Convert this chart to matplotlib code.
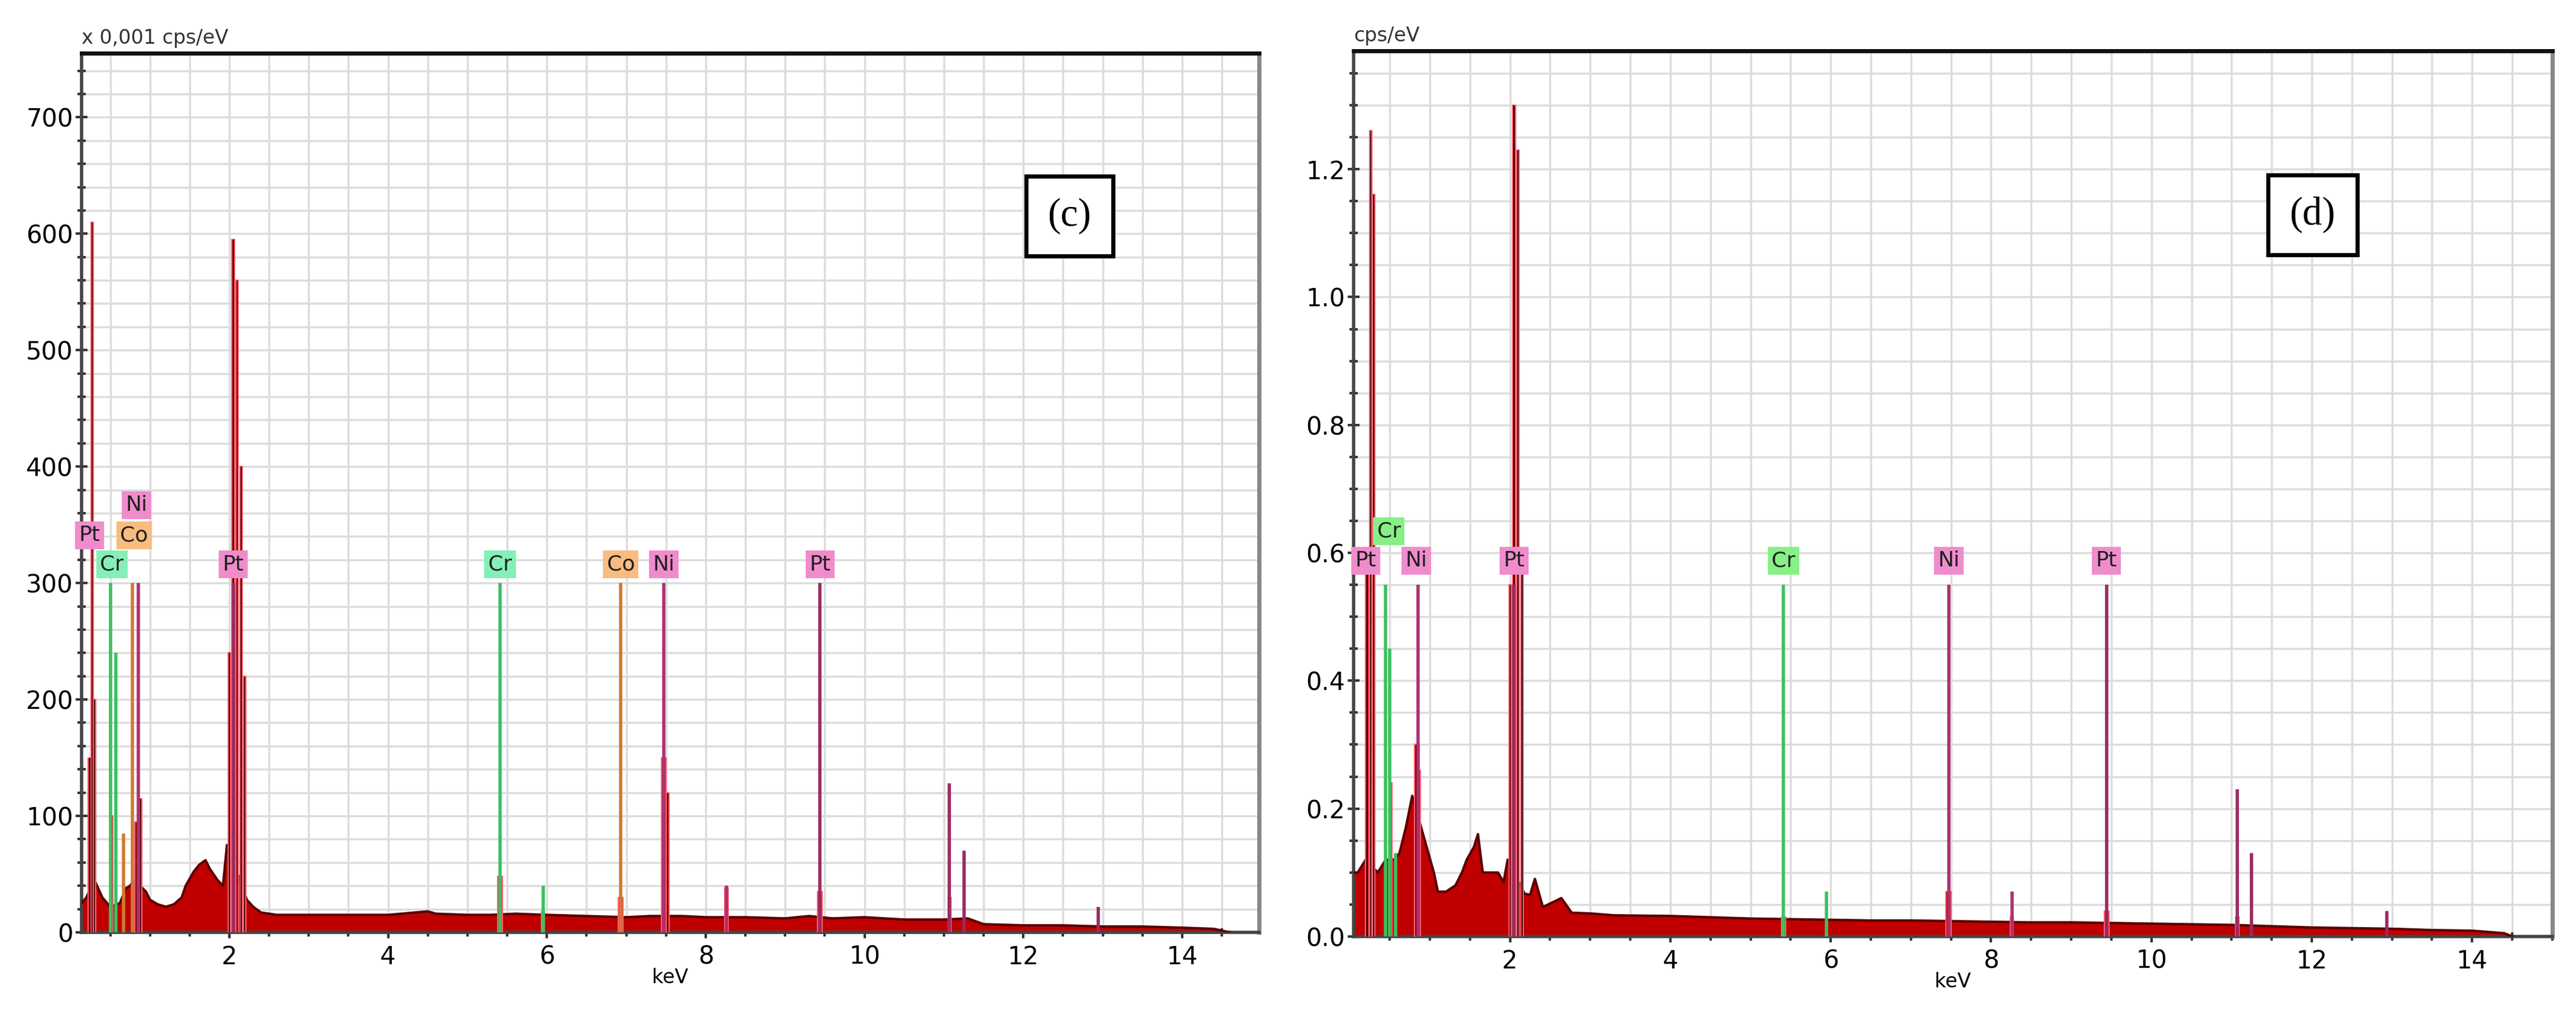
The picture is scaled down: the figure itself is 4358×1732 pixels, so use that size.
import matplotlib
matplotlib.use("Agg")
import matplotlib.pyplot as plt
from matplotlib.ticker import MultipleLocator

# ---------------- data: panel (c) ----------------
c_bg_e = [0.14, 0.20, 0.30, 0.40, 0.50, 0.62, 0.70, 0.75, 0.80, 0.95, 1.00, 1.10, 1.20, 1.30, 1.40, 1.45,
          1.55, 1.62, 1.70, 1.75, 1.85, 1.92, 1.97, 2.22, 2.30, 2.40, 2.60, 3.00, 3.50, 4.00, 4.50, 4.60,
          5.00, 5.30, 5.60, 6.00, 6.50, 7.00, 7.30, 7.70, 8.00, 8.50, 9.00, 9.30, 9.60, 10.00, 10.50,
          11.00, 11.30, 11.50, 12.00, 12.50, 13.00, 13.50, 14.00, 14.40, 14.60]
c_bg_c = [25, 30, 45, 30, 22, 25, 38, 40, 45, 35, 28, 24, 22, 24, 30, 40,
          52, 58, 62, 55, 45, 40, 75, 28, 22, 17, 15, 15, 15, 15, 18, 16,
          15, 15, 16, 15, 14, 13, 14, 14, 13, 13, 12, 14, 12, 13, 11,
          11, 12, 7, 6, 6, 5, 5, 4, 3, 0]
c_pk_e = [0.24, 0.27, 0.30, 0.52, 0.84, 0.88, 2.00, 2.05, 2.10, 2.15, 2.19, 5.41, 5.95, 6.93, 7.47, 7.52, 8.26, 9.44, 11.07]
c_pk_h = [150, 610, 200, 100, 95, 115, 240, 595, 560, 400, 220, 48, 18, 30, 150, 120, 38, 35, 30]
c_pk_w = [0.04, 0.03, 0.03, 0.02, 0.06, 0.03, 0.03, 0.04, 0.03, 0.03, 0.03, 0.06, 0.04, 0.06, 0.06, 0.04, 0.05, 0.06, 0.04]
# element marker lines
c_ln_e = [0.50, 0.57, 0.67, 0.78, 0.85, 2.05, 5.41, 5.95, 6.93, 7.47, 8.26, 9.44, 11.07, 11.25, 12.94]
c_ln_h = [300, 240, 85, 300, 300, 300, 300, 40, 300, 300, 40, 300, 128, 70, 22]
c_ln_el = ["Cr", "Cr", "Co", "Co", "Ni", "Pt", "Cr", "Cr", "Co", "Ni", "Ni", "Pt", "Pt", "Pt", "Pt"]
c_lab_t = ["Pt", "Cr", "Co", "Ni", "Pt", "Cr", "Co", "Ni", "Pt"]
c_lab_e = [0.24, 0.52, 0.80, 0.83, 2.05, 5.41, 6.93, 7.47, 9.44]
c_lab_y = [341, 316, 341, 367, 316, 316, 316, 316, 316]

# ---------------- data: panel (d) ----------------
d_bg_e = [0.05, 0.10, 0.20, 0.35, 0.45, 0.55, 0.62, 0.70, 0.78, 0.96, 1.05, 1.10, 1.20, 1.32, 1.40, 1.46,
          1.55, 1.60, 1.66, 1.75, 1.85, 1.92, 1.97, 2.18, 2.25, 2.31, 2.41, 2.64, 2.77, 3.00, 3.30,
          4.00, 4.50, 5.00, 5.50, 6.00, 6.50, 7.00, 7.50, 8.00, 8.50, 9.00, 9.50, 10.00, 10.50,
          11.00, 11.50, 12.00, 12.50, 13.00, 13.50, 14.00, 14.40, 14.50]
d_bg_c = [0.10, 0.10, 0.12, 0.10, 0.12, 0.12, 0.13, 0.17, 0.22, 0.14, 0.10, 0.07, 0.07, 0.08, 0.10, 0.12,
          0.14, 0.16, 0.10, 0.10, 0.10, 0.085, 0.12, 0.067, 0.065, 0.09, 0.046, 0.06, 0.037, 0.036, 0.033,
          0.032, 0.030, 0.028, 0.027, 0.026, 0.025, 0.025, 0.024, 0.023, 0.022, 0.022, 0.021, 0.020, 0.019,
          0.018, 0.016, 0.014, 0.013, 0.012, 0.010, 0.009, 0.005, 0.0]
d_pk_e = [0.22, 0.26, 0.30, 0.52, 0.84, 0.87, 2.00, 2.05, 2.10, 2.15, 5.41, 7.47, 8.26, 9.44, 11.07]
d_pk_h = [0.60, 1.26, 1.16, 0.24, 0.30, 0.26, 0.55, 1.30, 1.23, 0.60, 0.03, 0.07, 0.03, 0.04, 0.03]
d_pk_w = [0.04, 0.03, 0.03, 0.02, 0.06, 0.03, 0.03, 0.04, 0.03, 0.03, 0.05, 0.06, 0.04, 0.06, 0.04]
d_ln_e = [0.45, 0.50, 0.57, 0.85, 2.05, 5.41, 5.95, 7.47, 8.26, 9.44, 11.07, 11.25, 12.94]
d_ln_h = [0.55, 0.45, 0.13, 0.55, 0.55, 0.55, 0.07, 0.55, 0.07, 0.55, 0.23, 0.13, 0.04]
d_ln_el = ["Cr", "Cr", "Cr", "Ni", "Pt", "Cr", "Cr", "Ni", "Ni", "Pt", "Pt", "Pt", "Pt"]
d_lab_t = ["Pt", "Cr", "Ni", "Pt", "Cr", "Ni", "Pt"]
d_lab_e = [0.20, 0.49, 0.83, 2.05, 5.41, 7.47, 9.44]
d_lab_y = [0.588, 0.634, 0.588, 0.588, 0.588, 0.588, 0.588]

line_col = {"Pt": "#9a2a60", "Ni": "#b03070", "Cr": "#3cc060", "Co": "#d07a30"}
box_col_c = {"Pt": "#f08ccc", "Ni": "#f08ccc", "Cr": "#84f0b8", "Co": "#f8bc80"}
box_col_d = {"Pt": "#f08ccc", "Ni": "#f08ccc", "Cr": "#86f086", "Co": "#f8bc80"}

fig = plt.figure(figsize=(43.58, 17.32), dpi=100)
axc = fig.add_axes([0.0317, 0.0895, 0.4571, 0.8585])
axd = fig.add_axes([0.5255, 0.0855, 0.4653, 0.8648])


def draw(ax, bg_e, bg_c, pk_e, pk_h, pk_w, ln_e, ln_h, ln_el, lab_t, lab_e, lab_y, boxc,
         xlim, ylim, ymaj, ymin, yfmt, unit, tag, tagpos, lw_ln):
    ax.set_xlim(*xlim)
    ax.set_ylim(*ylim)
    ax.xaxis.set_major_locator(MultipleLocator(2))
    ax.xaxis.set_minor_locator(MultipleLocator(0.5))
    ax.yaxis.set_major_locator(MultipleLocator(ymaj))
    ax.yaxis.set_minor_locator(MultipleLocator(ymin))
    ax.yaxis.set_major_formatter(yfmt)
    ax.grid(which="both", color="#dcdcdc", lw=2.5, zorder=0)
    ax.set_axisbelow(True)
    # spectrum background
    ax.fill_between(bg_e, bg_c, color="#c00000", zorder=2, lw=0)
    ax.plot(bg_e, bg_c, color="#5a0000", lw=3, zorder=3)
    # peaks
    ax.bar(pk_e, pk_h, width=pk_w, color="#a00000", edgecolor="#ff6070", lw=1.5, zorder=3)
    ax.bar(pk_e, pk_h, width=[w * 0.35 for w in pk_w], color="#200000", lw=0, zorder=4)
    # element markers
    for e, h, el in zip(ln_e, ln_h, ln_el):
        ax.vlines(e, 0, h, color=line_col[el], lw=lw_ln, zorder=5)
    for t, e, y in zip(lab_t, lab_e, lab_y):
        ax.text(e, y, t, ha="center", va="center", fontsize=26, color="#202020", zorder=6,
                bbox=dict(boxstyle="square,pad=0.18", fc=boxc[t], ec="none"))
    # spines
    for s in ["left", "bottom"]:
        ax.spines[s].set_color("#444444")
        ax.spines[s].set_linewidth(4)
    ax.spines["top"].set_color("#111111")
    ax.spines["top"].set_linewidth(5)
    ax.spines["right"].set_color("#888888")
    ax.spines["right"].set_linewidth(5)
    ax.tick_params(which="major", length=14, width=3, labelsize=30, color="#333333", direction="inout")
    ax.tick_params(which="minor", length=10, width=3, color="#333333", direction="inout")
    ax.tick_params(axis="x", pad=8)
    ax.set_xlabel("keV", fontsize=24, labelpad=-2)
    ax.text(0.0, 1.006, unit, transform=ax.transAxes, fontsize=24, color="#333333", ha="left", va="bottom")
    ax.text(tagpos[0], tagpos[1], tag, transform=ax.transAxes, fontsize=48, family="Liberation Serif",
            ha="center", va="center", zorder=7,
            bbox=dict(boxstyle="square,pad=0.55", fc="white", ec="black", lw=5))


draw(axc, c_bg_e, c_bg_c, c_pk_e, c_pk_h, c_pk_w, c_ln_e, c_ln_h, c_ln_el, c_lab_t, c_lab_e, c_lab_y,
     box_col_c, (0.14, 14.97), (0, 755), 100, 20, "{x:.0f}", "x 0,001 cps/eV", "(c)", (0.839, 0.815), 4)
draw(axd, d_bg_e, d_bg_c, d_pk_e, d_pk_h, d_pk_w, d_ln_e, d_ln_h, d_ln_el, d_lab_t, d_lab_e, d_lab_y,
     box_col_d, (0.05, 15.0), (0, 1.385), 0.2, 0.05, "{x:.1f}", "cps/eV", "(d)", (0.8, 0.815), 4)

fig.savefig("out.png", dpi=100, facecolor="white")
